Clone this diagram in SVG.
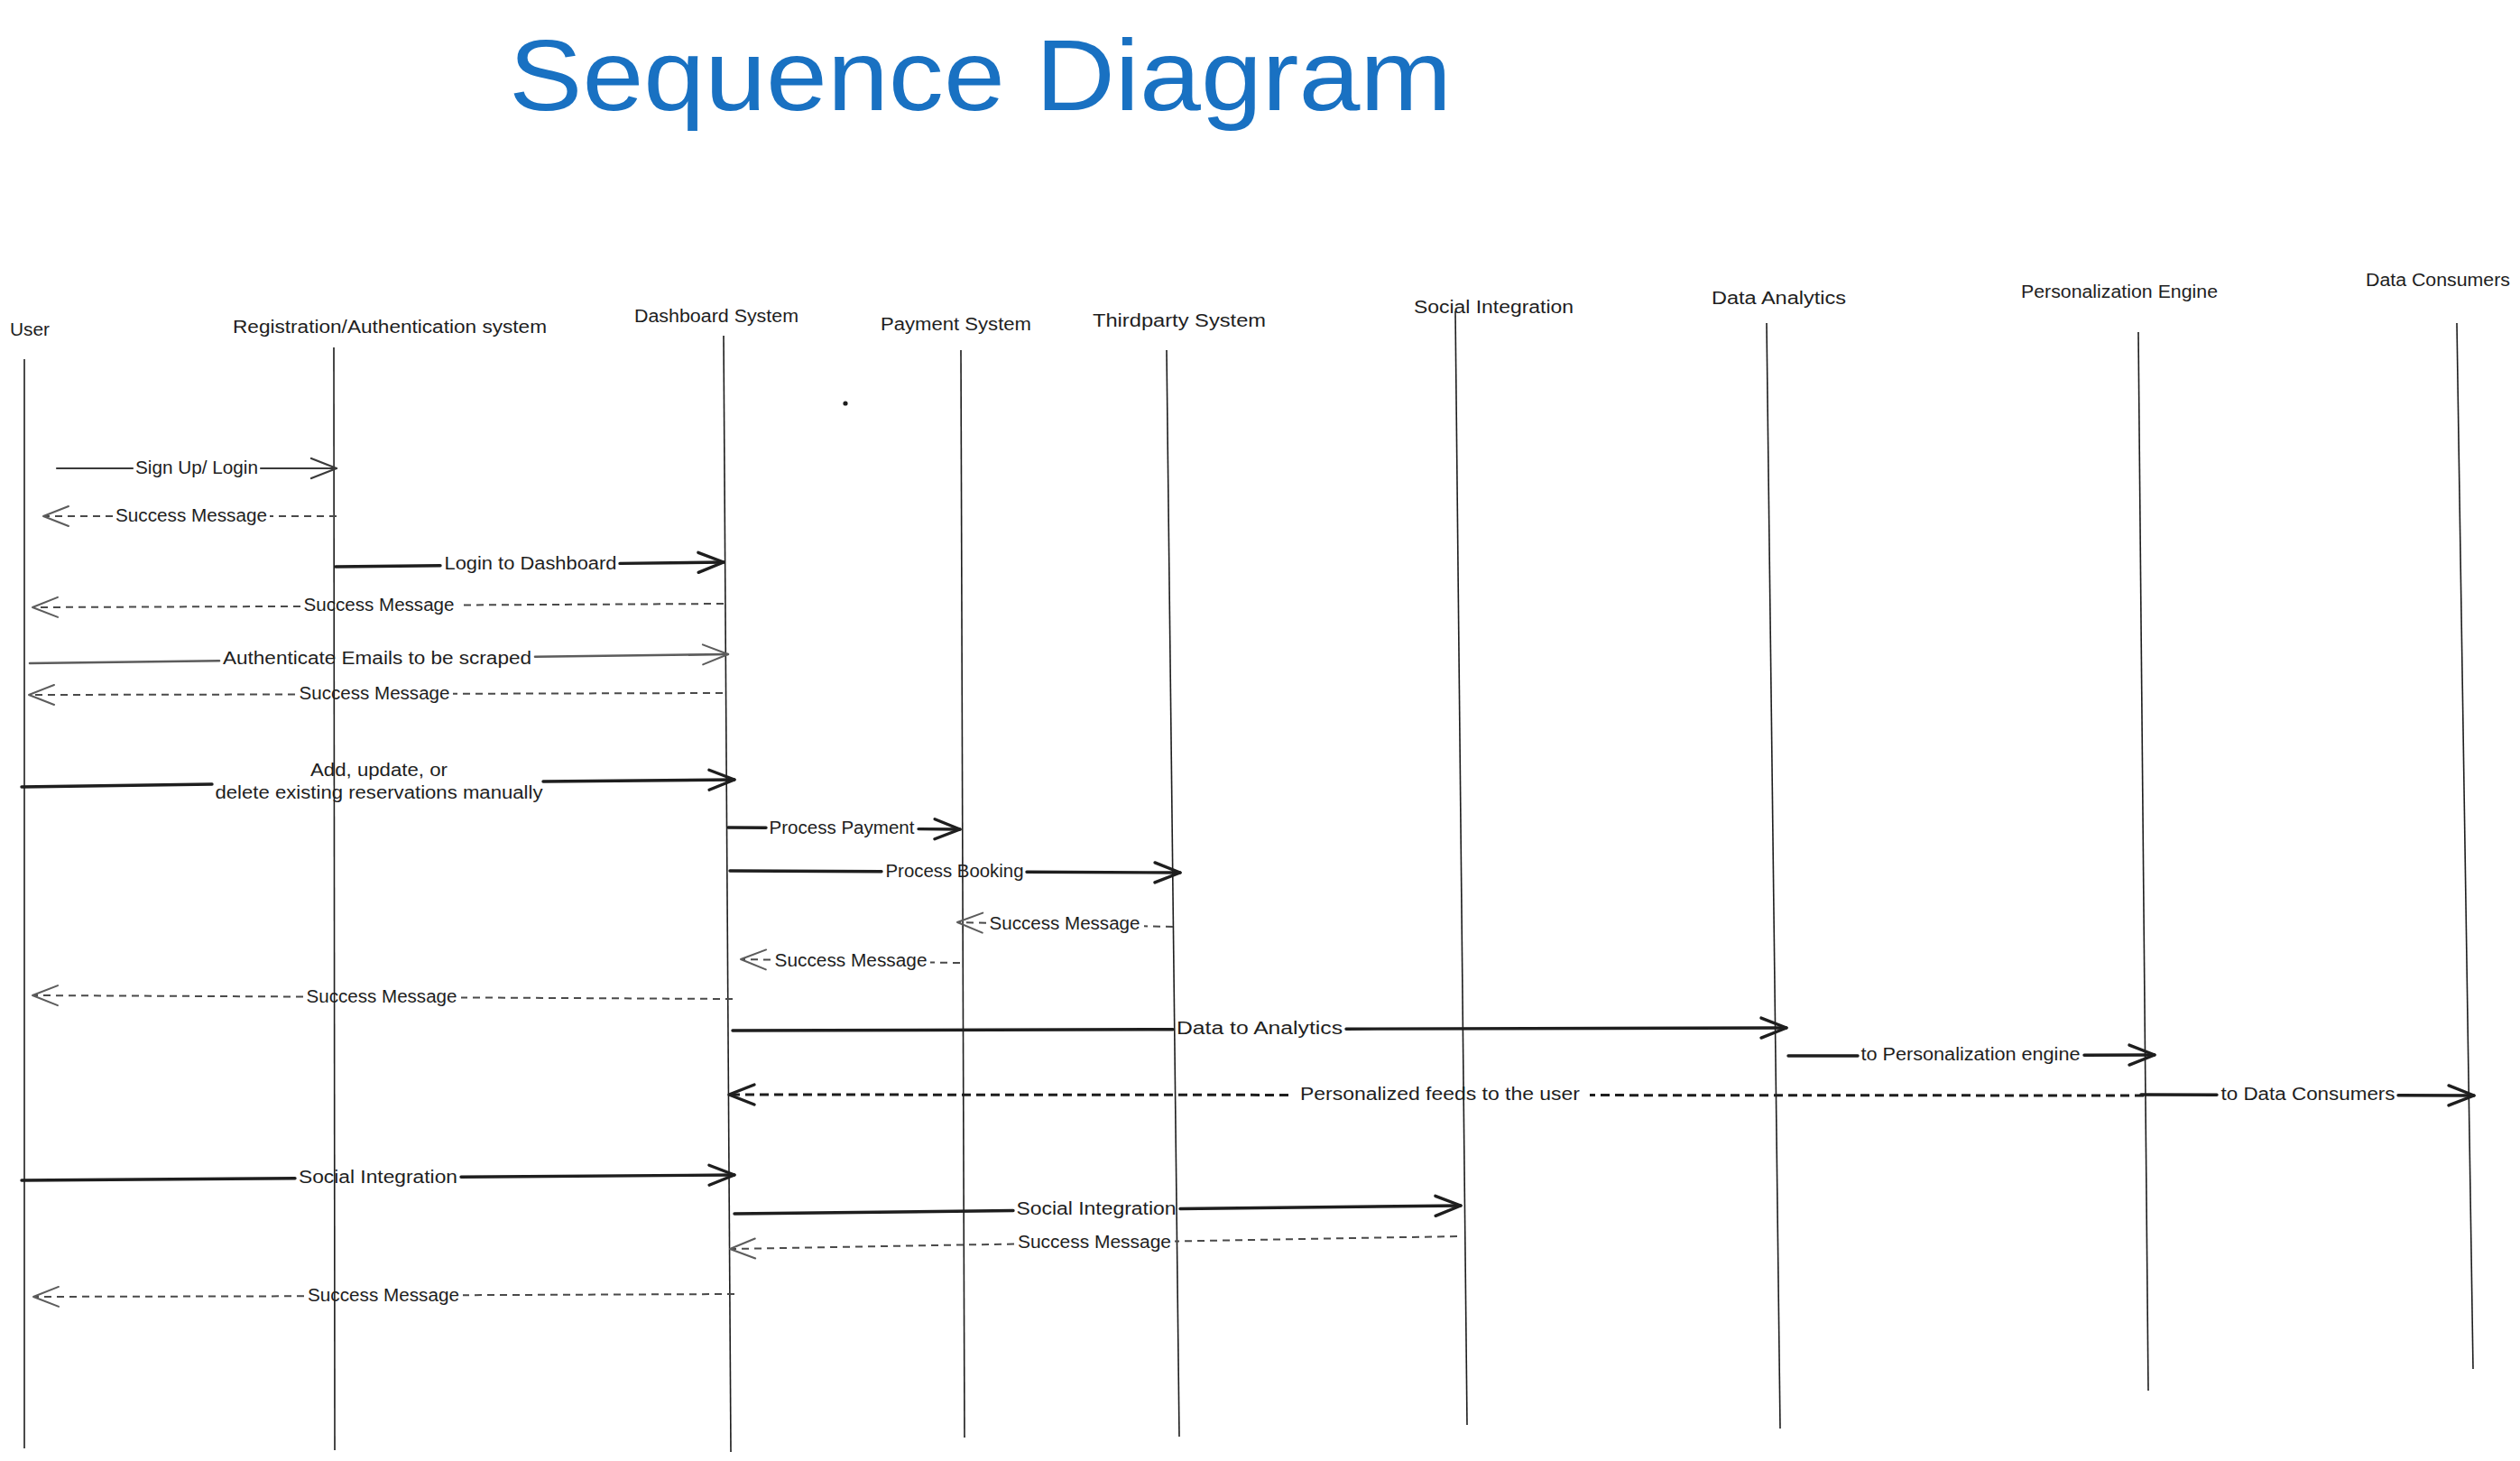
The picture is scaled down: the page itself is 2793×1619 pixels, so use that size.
<svg xmlns="http://www.w3.org/2000/svg" width="2793" height="1619" viewBox="0 0 2793 1619">
  <style>
    .bg { fill: #ffffff; }
    .title { font-family: "Liberation Sans", "DejaVu Sans", sans-serif; font-size: 112px; fill: #1971c2; }
    .actor { font-family: "Liberation Sans", "DejaVu Sans", sans-serif; font-size: 20px; fill: #1e1e1e; }
    .life { stroke: #1e1e1e; stroke-width: 1.6; fill: none; }
    .lbl { font-family: "Liberation Sans", "DejaVu Sans", sans-serif; font-size: 20px; fill: #1e1e1e; text-anchor: middle; }
    .solid { stroke: #1e1e1e; stroke-width: 3.4; fill: none; stroke-linecap: round; }
    .thin { stroke: #3a3a3a; stroke-width: 2.2; fill: none; stroke-linecap: round; }
    .gray { stroke: #5c5c5c; stroke-width: 2.6; fill: none; stroke-linecap: round; }
    .dash { stroke: #4a4a4a; stroke-width: 2; fill: none; stroke-dasharray: 8 6; }
    .dashbold { stroke: #1e1e1e; stroke-width: 3; fill: none; stroke-dasharray: 10 6; }
  </style>
  <defs>
    <marker id="headBold" markerUnits="userSpaceOnUse" viewBox="-32 -16 36 32" markerWidth="36" markerHeight="32" refX="0" refY="0" orient="auto">
      <path d="M-28,-11 L0,0 L-28,11" fill="none" stroke="#1e1e1e" stroke-width="3.4" stroke-linecap="round" stroke-linejoin="round"/>
    </marker>
    <marker id="headThin" markerUnits="userSpaceOnUse" viewBox="-32 -16 36 32" markerWidth="36" markerHeight="32" refX="0" refY="0" orient="auto">
      <path d="M-28,-11 L0,0 L-28,11" fill="none" stroke="#3a3a3a" stroke-width="2.2" stroke-linecap="round" stroke-linejoin="round"/>
    </marker>
    <marker id="headGray" markerUnits="userSpaceOnUse" viewBox="-32 -16 36 32" markerWidth="36" markerHeight="32" refX="0" refY="0" orient="auto">
      <path d="M-28,-11 L0,0 L-28,11" fill="none" stroke="#5c5c5c" stroke-width="2" stroke-linecap="round" stroke-linejoin="round"/>
    </marker>
  </defs>

  <rect class="bg" x="0" y="0" width="2793" height="1619"/>

  <text class="title" x="564" y="122" textLength="1045" lengthAdjust="spacingAndGlyphs">Sequence Diagram</text>

  <circle cx="937" cy="447" r="2.6" fill="#1e1e1e"/>

  <!-- participants: name + lifeline -->
  <g id="user">
    <text class="actor" x="11" y="372" textLength="44" lengthAdjust="spacingAndGlyphs">User</text>
    <line class="life" x1="27" y1="398" x2="27" y2="1605"/>
  </g>
  <g id="registration">
    <text class="actor" x="258" y="369" textLength="348" lengthAdjust="spacingAndGlyphs">Registration/Authentication system</text>
    <line class="life" x1="370" y1="385" x2="371" y2="1607"/>
  </g>
  <g id="dashboard">
    <text class="actor" x="703" y="357" textLength="182" lengthAdjust="spacingAndGlyphs">Dashboard System</text>
    <line class="life" x1="802" y1="372" x2="810" y2="1609"/>
  </g>
  <g id="payment">
    <text class="actor" x="976" y="366" textLength="167" lengthAdjust="spacingAndGlyphs">Payment System</text>
    <line class="life" x1="1065" y1="388" x2="1069" y2="1593"/>
  </g>
  <g id="thirdparty">
    <text class="actor" x="1211" y="362" textLength="192" lengthAdjust="spacingAndGlyphs">Thirdparty System</text>
    <line class="life" x1="1293" y1="388" x2="1307" y2="1592"/>
  </g>
  <g id="social">
    <text class="actor" x="1567" y="347" textLength="177" lengthAdjust="spacingAndGlyphs">Social Integration</text>
    <line class="life" x1="1613" y1="345" x2="1626" y2="1579"/>
  </g>
  <g id="analytics">
    <text class="actor" x="1897" y="337" textLength="149" lengthAdjust="spacingAndGlyphs">Data Analytics</text>
    <line class="life" x1="1958" y1="358" x2="1973" y2="1583"/>
  </g>
  <g id="personalization">
    <text class="actor" x="2240" y="330" textLength="218" lengthAdjust="spacingAndGlyphs">Personalization Engine</text>
    <line class="life" x1="2370" y1="368" x2="2381" y2="1541"/>
  </g>
  <g id="consumers">
    <text class="actor" x="2622" y="317" textLength="160" lengthAdjust="spacingAndGlyphs">Data Consumers</text>
    <line class="life" x1="2723" y1="358" x2="2741" y2="1517"/>
  </g>

  <!-- messages: each line is split where its label sits -->
  <g id="connectors">
    <line class="thin" x1="63" y1="519" x2="147" y2="519"/>
    <line class="thin" x1="289" y1="519" x2="373" y2="519" marker-end="url(#headThin)"/>
    <text class="lbl" x="218" y="525" textLength="136" lengthAdjust="spacingAndGlyphs">Sign Up/ Login</text>

    <line class="dash" x1="373" y1="572" x2="299" y2="572"/>
    <line class="dash" x1="125" y1="572" x2="48" y2="572" marker-end="url(#headGray)"/>
    <text class="lbl" x="212" y="578" textLength="168" lengthAdjust="spacingAndGlyphs">Success Message</text>

    <line class="solid" x1="372" y1="628" x2="488" y2="626.7"/>
    <line class="solid" x1="687" y1="624.4" x2="802" y2="623" marker-end="url(#headBold)"/>
    <text class="lbl" x="588" y="631" textLength="191" lengthAdjust="spacingAndGlyphs">Login to Dashboard</text>

    <line class="dash" x1="802" y1="669" x2="508" y2="670.5"/>
    <line class="dash" x1="333" y1="671.9" x2="36" y2="673" marker-end="url(#headGray)"/>
    <text class="lbl" x="420" y="677" textLength="167" lengthAdjust="spacingAndGlyphs">Success Message</text>

    <line class="gray" x1="33" y1="735" x2="243" y2="732.3"/>
    <line class="gray" x1="593" y1="727.8" x2="807" y2="725" marker-end="url(#headGray)"/>
    <text class="lbl" x="418" y="736" textLength="342" lengthAdjust="spacingAndGlyphs">Authenticate Emails to be scraped</text>

    <line class="dash" x1="801" y1="768" x2="502" y2="768.8"/>
    <line class="dash" x1="327" y1="769.5" x2="32" y2="770" marker-end="url(#headGray)"/>
    <text class="lbl" x="415" y="775" textLength="167" lengthAdjust="spacingAndGlyphs">Success Message</text>

    <line class="solid" x1="24" y1="872" x2="235" y2="869"/>
    <line class="solid" x1="602" y1="866" x2="814" y2="864" marker-end="url(#headBold)"/>
    <text class="lbl" x="420" y="860" textLength="152" lengthAdjust="spacingAndGlyphs">Add, update, or</text>
    <text class="lbl" x="420" y="885" textLength="363" lengthAdjust="spacingAndGlyphs">delete existing reservations manually</text>

    <line class="solid" x1="807" y1="917" x2="849" y2="917.3"/>
    <line class="solid" x1="1018" y1="918.6" x2="1064" y2="919" marker-end="url(#headBold)"/>
    <text class="lbl" x="933" y="924" textLength="161" lengthAdjust="spacingAndGlyphs">Process Payment</text>

    <line class="solid" x1="809" y1="965" x2="977" y2="965.7"/>
    <line class="solid" x1="1138" y1="966.3" x2="1308" y2="967" marker-end="url(#headBold)"/>
    <text class="lbl" x="1058" y="972" textLength="153" lengthAdjust="spacingAndGlyphs">Process Booking</text>

    <line class="dash" x1="1300" y1="1027" x2="1268" y2="1026.3"/>
    <line class="dash" x1="1093" y1="1022.7" x2="1061" y2="1022" marker-end="url(#headGray)"/>
    <text class="lbl" x="1180" y="1030" textLength="167" lengthAdjust="spacingAndGlyphs">Success Message</text>

    <line class="dash" x1="1064" y1="1067" x2="1031" y2="1066.5"/>
    <line class="dash" x1="854" y1="1063.5" x2="821" y2="1063" marker-end="url(#headGray)"/>
    <text class="lbl" x="943" y="1071" textLength="169" lengthAdjust="spacingAndGlyphs">Success Message</text>

    <line class="dash" x1="812" y1="1107" x2="511" y2="1105.4"/>
    <line class="dash" x1="336" y1="1104.5" x2="36" y2="1103" marker-end="url(#headGray)"/>
    <text class="lbl" x="423" y="1111" textLength="167" lengthAdjust="spacingAndGlyphs">Success Message</text>

    <line class="solid" x1="812" y1="1142" x2="1300" y2="1140.7"/>
    <line class="solid" x1="1492" y1="1140.2" x2="1980" y2="1139" marker-end="url(#headBold)"/>
    <text class="lbl" x="1396" y="1146" textLength="184" lengthAdjust="spacingAndGlyphs">Data to Analytics</text>

    <line class="solid" x1="1982" y1="1170" x2="2059" y2="1170"/>
    <line class="solid" x1="2310" y1="1169.2" x2="2388" y2="1169" marker-end="url(#headBold)"/>
    <text class="lbl" x="2184" y="1175" textLength="243" lengthAdjust="spacingAndGlyphs">to Personalization engine</text>

    <line class="dashbold" x1="2376" y1="1214" x2="1762" y2="1213.6"/>
    <line class="dashbold" x1="1428" y1="1213.4" x2="808" y2="1213" marker-end="url(#headBold)"/>
    <text class="lbl" x="1596" y="1219" textLength="310" lengthAdjust="spacingAndGlyphs">Personalized feeds to the user</text>

    <line class="solid" x1="2373" y1="1213" x2="2457" y2="1213.2"/>
    <line class="solid" x1="2658" y1="1213.8" x2="2742" y2="1214" marker-end="url(#headBold)"/>
    <text class="lbl" x="2558" y="1219" textLength="193" lengthAdjust="spacingAndGlyphs">to Data Consumers</text>

    <line class="solid" x1="24" y1="1308" x2="327" y2="1305.7"/>
    <line class="solid" x1="511" y1="1304.3" x2="814" y2="1302" marker-end="url(#headBold)"/>
    <text class="lbl" x="419" y="1311" textLength="176" lengthAdjust="spacingAndGlyphs">Social Integration</text>

    <line class="solid" x1="814" y1="1345" x2="1123" y2="1341.5"/>
    <line class="solid" x1="1308" y1="1339.5" x2="1619" y2="1336" marker-end="url(#headBold)"/>
    <text class="lbl" x="1215" y="1346" textLength="177" lengthAdjust="spacingAndGlyphs">Social Integration</text>

    <line class="dash" x1="1615" y1="1370" x2="1302" y2="1375.5"/>
    <line class="dash" x1="1124" y1="1378.5" x2="809" y2="1384" marker-end="url(#headGray)"/>
    <text class="lbl" x="1213" y="1383" textLength="170" lengthAdjust="spacingAndGlyphs">Success Message</text>

    <line class="dash" x1="814" y1="1434" x2="513" y2="1435.2"/>
    <line class="dash" x1="337" y1="1436.3" x2="37" y2="1437" marker-end="url(#headGray)"/>
    <text class="lbl" x="425" y="1442" textLength="168" lengthAdjust="spacingAndGlyphs">Success Message</text>
  </g>
</svg>
